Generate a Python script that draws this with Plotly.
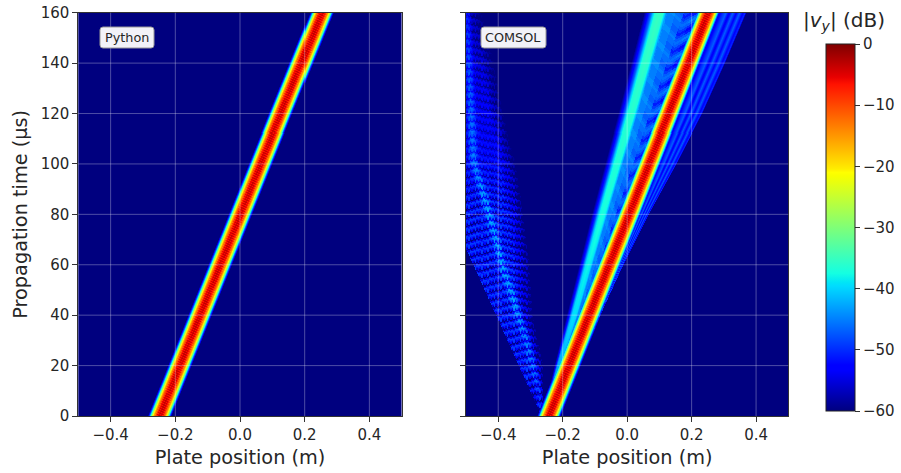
import numpy as np
import plotly.graph_objects as go

W, H = 901, 473
# ---------- readings from the picture ----------
x_ticks = [-0.4, -0.2, 0.0, 0.2, 0.4]
y_ticks = [0, 20, 40, 60, 80, 100, 120, 140, 160]
cbar_ticks = [0, -10, -20, -30, -40, -50, -60]
jet_stops = [0, .11, .125, .34, .35, .375, .64, .65, .66, .89, .91, 1]
jet_colors = ["#00007f", "#0000ff", "#0000ff", "#00dbff", "#00e5f7", "#14ffe2",
              "#f7ff00", "#ffff00", "#ffec00", "#ff1200", "#e80000", "#7f0000"]
# main wave: centre against time
main_t = [0, 40, 80, 120, 160]
main_py = [-0.247, -0.122, 0.003, 0.128, 0.254]
main_co = [-0.243, -0.119, 0.005, 0.128, 0.251]
# main wave: level against distance from centre
main_off = [0, .004, .009, .014, .019, .023, .027, .031, .037]
main_db = [-3, -3.5, -5, -10, -17, -24, -33, -45, -60]
core_ripple = [0, -1.5, -3, -1]
# slower wave of the COMSOL panel
sec_t = [0, 20, 40, 80, 120, 160]
sec_x = [-0.258, -0.212, -0.165, -0.078, 0.012, 0.099]
sec_hw = [.005, .010, .014, .018, .021, .024]
sec_lv = [-46, -42, -39, -37, -36, -35]
sec_u = [0, .5, .8, 1, 1.4, 1.9]
sec_u_db = [0, -1, -6, -11, -17, -24]
# textured band between slower and main wave, dB
mid_tile = [[-45, -45, -46, -46, -45, -44],
            [-44, -44, -45, -47, -47, -45],
            [-43, -44, -46, -49, -51, -46],
            [-43, -45, -47, -51, -53, -47],
            [-44, -45, -47, -49, -50, -46],
            [-44, -45, -46, -47, -47, -45]]
# fan to the right of the main wave
fan_t = [0, 40, 60, 80, 100, 120, 140, 160]
fan_x = [-0.215, -0.084, -0.013, 0.065, 0.15, 0.23, 0.30, 0.366]
fan_u = [0, .05, .18, .3, .42, .55, .68, .8, .92, 1, 1.05]
fan_db = [-44, -54, -50, -47, -54, -47, -53, -47, -53, -50, -60]
# fan to the left of the launch point
lf_t = [0, 66, 160]
lf_l = [-0.268, -0.5, -1.09]
lr_t = [0, 20, 40, 60, 80, 100, 120, 140, 160]
lr_x = [-0.262, -0.262, -0.295, -0.305, -0.325, -0.345, -0.38, -0.40, -0.425]
lb_t = [0, 7.5, 29, 58, 78, 101, 160]
lb_x = [-0.268, -0.27, -0.31, -0.385, -0.425, -0.478, -0.5]
lv_t = [0, 80, 100, 120, 140, 160]
lv_db = [0, 0, -1, -2, -4, -6]
lc_t = [0, 85, 105, 160]
lc_k = [1, 1, .55, .45]
bright_d = [0, .008, .016, .03]
bright_db = [7, 5, 1, 0]
fade_d = [0, .015, .05]
fade_db = [-9, -5, 0]
left_tile = [[-7, 2, -7, -2],
             [-3, 3, -4, 0],
             [1, 3, 0, 2],
             [3, 1, 3, 3],
             [0, -3, 2, -3],
             [-5, -7, -4, -8]]
# ---------- raster ----------
xs = np.linspace(-0.5, 0.5, 323)
ts = np.linspace(0, 160, 403)
X, T = np.meshgrid(xs, ts)


def ridge(centre):
    base = np.interp(np.abs(X - centre), main_off, main_db)
    phase = np.floor(((T + 60 * X) % 1.0) * 4).astype(int) % 4
    return base + np.array(core_ripple)[phase] * (base > -12)


z_py = ridge(np.interp(T, main_t, main_py))

mc = np.interp(T, main_t, main_co)
z_co = ridge(mc)
sc = np.interp(T, sec_t, sec_x)
hw = np.interp(T, sec_t, sec_hw)
lv = np.interp(T, sec_t, sec_lv)
z_sec = lv + np.interp(np.abs(X - sc) / hw, sec_u, sec_u_db, right=-60)
# band between
u = (X - sc) / np.maximum(mc - sc, 1e-4)
mid_rows = (np.floor((T - 14 * np.abs(u - .55)) / 7 * 6).astype(int)) % 6
mid_cols = np.clip((u * 6).astype(int), 0, 5)
z_mid = np.array(mid_tile)[mid_rows, mid_cols]
z_mid = np.where((u > 0) & (u < 1) & (T > 5), z_mid, -60)
# right fan
ex = np.interp(T, fan_t, fan_x)
uf = (X - (mc + .03)) / np.maximum(ex - (mc + .03), 1e-3)
z_fan = np.interp(uf, fan_u, fan_db, left=-60, right=-60)
# left fan
L = np.interp(T, lf_t, lf_l)
R = np.interp(T, lr_t, lr_x)
B = np.interp(T, lb_t, lb_x)
rows = np.floor(((T + 30 * np.abs(X - B)) % 3) / 3 * 6).astype(int) % 6
cols = np.floor(((X + 1) % .02) / .02 * 4).astype(int) % 4
z_left = -52 + np.array(left_tile)[rows, cols] * np.interp(T, lc_t, lc_k) + np.interp(T, lv_t, lv_db)
z_left += np.interp(np.abs(X - B), bright_d, bright_db)
z_left += np.interp(R - X, fade_d, fade_db)
z_left = np.where((X > L) & (X < R), z_left, -60)
z_co = np.maximum.reduce([z_co, z_sec, z_mid, z_fan, z_left])
z_co = np.clip(z_co, -60, 0)

# ---------- figure ----------
dom_x1 = [78.3 / W, 401.7 / W]
dom_x2 = [466 / W, 788.3 / W]
dom_y = [1 - 416 / H, 1 - 12.7 / H]
txt = "#262626"
font = dict(family="DejaVu Sans", color=txt)
colorscale = list(zip(jet_stops, jet_colors))

fig = go.Figure()
fig.add_trace(go.Heatmap(x=xs, y=ts, z=z_py, coloraxis="coloraxis", xaxis="x", yaxis="y", hoverinfo="skip"))
fig.add_trace(go.Heatmap(x=xs, y=ts, z=z_co, coloraxis="coloraxis", xaxis="x2", yaxis="y2", hoverinfo="skip"))

xa = dict(range=[-0.5, 0.5], tickvals=x_ticks, tickformat=".1f", ticks="outside", ticklen=5, tickwidth=1,
          tickcolor="#333", showline=True, linecolor="#333", linewidth=1, mirror=True, showgrid=False,
          zeroline=False, tickfont=dict(size=15, **font),
          title=dict(text="Plate position (m)", font=dict(size=19.3, **font), standoff=7), automargin=False)
ya = dict(range=[0, 160], tickvals=y_ticks, ticks="outside", ticklen=5, tickwidth=1, tickcolor="#333",
          showline=True, linecolor="#333", linewidth=1, mirror=True, showgrid=False, zeroline=False,
          tickfont=dict(size=15, **font), automargin=False)
fig.update_layout(
    width=W, height=H, margin=dict(l=0, r=0, t=0, b=0), paper_bgcolor="white", plot_bgcolor="white",
    xaxis=dict(domain=dom_x1, anchor="y", **xa),
    yaxis=dict(domain=dom_y, anchor="x",
               title=dict(text="Propagation time (µs)", font=dict(size=19.3, **font), standoff=7), **ya),
    xaxis2=dict(domain=dom_x2, anchor="y2", **xa),
    yaxis2=dict(domain=dom_y, anchor="x2", showticklabels=False, **ya),
    coloraxis=dict(cmin=-60, cmax=0, colorscale=colorscale,
                   colorbar=dict(x=826 / W, xanchor="left", xpad=0, y=1 - 411 / H, yanchor="bottom",
                                 len=367 / H, lenmode="fraction", ypad=0, thickness=29, thicknessmode="pixels",
                                 tickvals=cbar_ticks, ticks="outside", ticklen=5, tickcolor="#333",
                                 tickfont=dict(size=15, **font), outlinecolor="#222", outlinewidth=1)),
    showlegend=False,
)
# white translucent grid above the raster
grid = dict(color="rgba(255,255,255,0.3)", width=1)
for xr, yr in (("x", "y"), ("x2", "y2")):
    for v in x_ticks:
        fig.add_shape(type="line", xref=xr, yref=yr + " domain", x0=v, x1=v, y0=0, y1=1, line=grid, layer="above")
    for v in y_ticks[1:-1]:
        fig.add_shape(type="line", xref=xr + " domain", yref=yr, x0=0, x1=1, y0=v, y1=v, line=grid, layer="above")


def label_box(text, px0, px1):
    # rounded box in page pixels converted to paper fractions
    y0, y1 = 1 - 48 / H, 1 - 27 / H
    x0, x1 = px0 / W, px1 / W
    rx, ry = 3 / W, 3 / H
    path = (f"M{x0+rx},{y0} L{x1-rx},{y0} Q{x1},{y0} {x1},{y0+ry} L{x1},{y1-ry} Q{x1},{y1} {x1-rx},{y1} "
            f"L{x0+rx},{y1} Q{x0},{y1} {x0},{y1-ry} L{x0},{y0+ry} Q{x0},{y0} {x0+rx},{y0} Z")
    fig.add_shape(type="path", xref="paper", yref="paper", path=path, fillcolor="rgba(255,255,255,0.95)",
                  line=dict(color="#999", width=1), layer="above")
    fig.add_annotation(xref="paper", yref="paper", x=(x0 + x1) / 2, y=(y0 + y1) / 2, text=text, showarrow=False,
                       font=dict(size=12.8, **font), xanchor="center", yanchor="middle")


label_box("Python", 100, 154)
label_box("COMSOL", 481, 546)
fig.add_annotation(xref="paper", yref="paper", x=843.5 / W, y=1 - 21 / H, text="|<i>v<sub>y</sub></i>| (dB)",
                   showarrow=False, font=dict(size=20, **font), xanchor="center", yanchor="middle")
fig.write_html("out.html", config=dict(displayModeBar=False),
               post_script="document.body.style.margin='0';document.body.style.overflow='hidden';")
